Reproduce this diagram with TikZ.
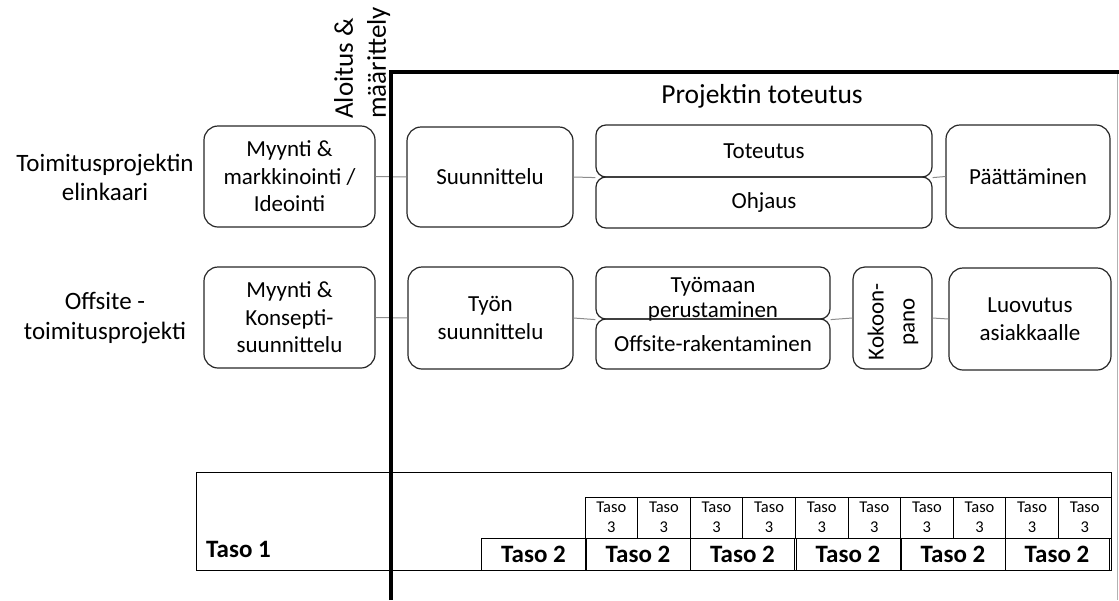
\documentclass[tikz,border=0pt]{standalone}
\usepackage{fontspec}
\setmainfont{Carlito}
\begin{document}
\begin{tikzpicture}[x=1pt,y=-1pt,
  box/.style={draw=black!85, line width=1.2pt, rounded corners=14pt, align=center,
    inner sep=0pt, font=\fontsize{23}{27.5}\selectfont},
  halfbox/.style={box, rounded corners=10pt},
  txt/.style={align=center, inner sep=0pt, font=\fontsize{23}{25}\selectfont},
  conn/.style={draw=black!45, line width=1pt},
  lab/.style={align=center, inner sep=0pt, font=\fontsize{25}{29}\selectfont},
  cell/.style={draw, line width=0.8pt, inner sep=0pt},
  tthree/.style={cell, minimum width=52.6, minimum height=41, align=center,
    font=\fontsize{16.5}{20}\selectfont},
  ttwo/.style={cell, minimum width=104, minimum height=32,
    font=\fontsize{25}{30}\selectfont\bfseries},
]
\useasboundingbox (0,0) rectangle (1119,600);

% row labels
\node[lab] (rowA) at (105,177) {Toimitusprojektin\\elinkaari};
\node[lab] (rowB) at (105,318) {Offsite -\\toimitusprojekti};

% phase titles
\node[lab, rotate=90, align=left, anchor=north west, font=\fontsize{27}{33}\selectfont]
  (start) at (334,119) {Aloitus \&\\määrittely};
\node[lab, font=\fontsize{27.5}{32}\selectfont] (impl) at (762,96) {Projektin toteutus};

% delivery project life cycle
\node[box, minimum width=171, minimum height=101] (m1) at (289.5,176.5) {Myynti \&\\markkinointi /\\Ideointi};
\node[box, minimum width=166, minimum height=100] (s1) at (490,177) {Suunnittelu};
\node[halfbox, minimum width=336, minimum height=52] (tot) at (764,151) {Toteutus};
\node[halfbox, minimum width=336, minimum height=51] (ohj) at (764,202.5) {Ohjaus};
\node[box, minimum width=164, minimum height=103] (p1) at (1028,176.5) {Päättäminen};

% offsite delivery project
\node[box, minimum width=171, minimum height=101] (m2) at (289.5,317.5) {Myynti \&\\Konsepti-\\suunnittelu};
\node[box, minimum width=165, minimum height=102] (t2) at (490.5,318) {Työn\\suunnittelu};
\node[halfbox, minimum width=234, minimum height=52] (tyo) at (713,293) {};
\node[txt] (tyot) at (713,299) {Työmaan\\perustaminen};
\node[halfbox, minimum width=234, minimum height=50] (off) at (713,344) {Offsite-rakentaminen};
\node[box, rounded corners=12pt, minimum width=79, minimum height=102] (kok) at (892.5,318) {};
\node[txt, rotate=90, font=\fontsize{23}{31}\selectfont] (kokt) at (893,322) {Kokoon-\\pano};
\node[box, minimum width=162, minimum height=102] (luo) at (1030,319) {Luovutus\\asiakkaalle};

% connectors
\draw[conn] (m1.east) -- (s1.west);
\draw[conn] (s1.east) -- (tot.south west);
\draw[conn] (tot.south east) -- (p1.west);
\draw[conn] (m2.east) -- (t2.west);
\draw[conn] (t2.east) -- (tyo.south west);
\draw[conn] (tyo.south east) -- (kok.west);
\draw[conn] (kok.east) -- (luo.west);

% levels
\node[cell, minimum width=915, minimum height=98] (lvl1) at (653.5,521) {};
\node[inner sep=0pt, anchor=base west, font=\fontsize{25}{30}\selectfont\bfseries] (lvl1t) at (206,557) {Taso 1};
\node[ttwo] (l2a) at (533.5,554) {Taso 2};
\foreach \i/\x in {1/638, 2/742.5, 3/848, 4/953, 5/1057} {
  \node[ttwo] (l2-\i) at (\x,554) {Taso 2};
}
\foreach \i in {0,...,9} {
  \node[tthree] (l3-\i) at ({585+26.3+52.6*\i},517.5) {Taso\\3};
}

% project execution frame
\draw[black!30, line width=0.8pt] (1117.5,73) -- (1117.5,600);
\draw[line width=4pt] (391,600) -- (391,71.5) -- (1119,71.5);
\end{tikzpicture}
\end{document}
